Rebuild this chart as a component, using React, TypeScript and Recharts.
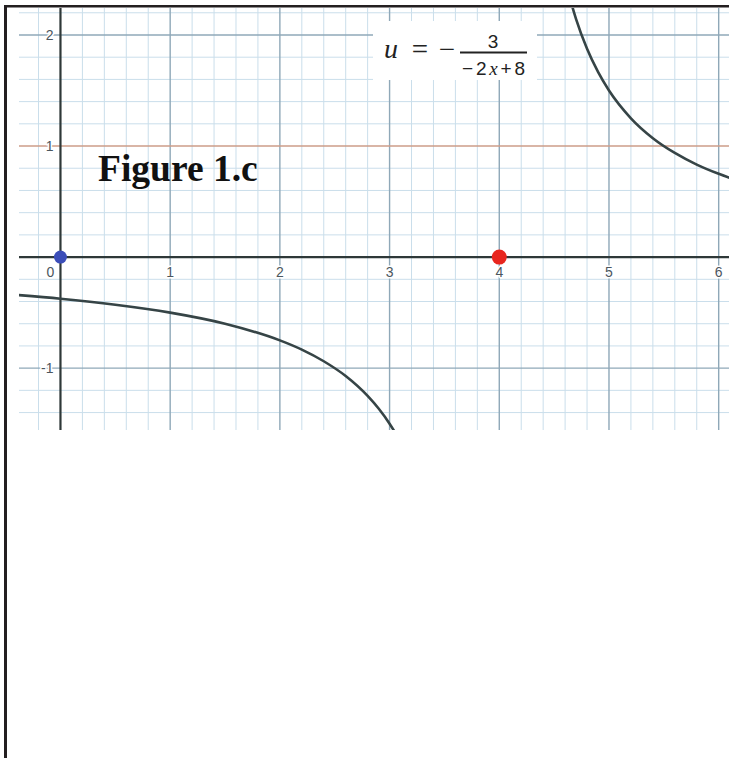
import React from "react";
import {
  ComposedChart, Line, XAxis, YAxis, ReferenceLine, ReferenceDot,
} from "recharts";

// curve u = -3 / (-2x + 8)
const leftX = [-0.4, 0, 0.5, 1, 1.5, 2, 2.2, 2.4, 2.6, 2.8, 2.9, 3.0, 3.05];
const leftU = [-0.341, -0.375, -0.429, -0.5, -0.6, -0.75, -0.833, -0.938, -1.071, -1.25, -1.364, -1.5, -1.579];
const rightX = [4.65, 4.7, 4.8, 4.9, 5.0, 5.2, 5.4, 5.6, 5.8, 6.0, 6.1];
const rightU = [2.308, 2.143, 1.875, 1.667, 1.5, 1.25, 1.071, 0.938, 0.833, 0.75, 0.714];

// marked points on the x axis
const pointX = [0, 4];
const pointU = [0, 0];
const pointColors = ["#3b4db8", "#e8261e"];
const pointRadius = [6.5, 7.5];

// tick labels
const xTicks = [0, 1, 2, 3, 4, 5, 6];
const yTicks = [-1, 1, 2];

const X_DOMAIN: [number, number] = [-0.378, 6.094];
const Y_DOMAIN: [number, number] = [-1.557, 2.243];

const minorLines = (from: number, to: number) => {
  const out: number[] = [];
  for (let i = Math.ceil(from / 0.2); i <= Math.floor(to / 0.2); i++) {
    const v = +(i * 0.2).toFixed(1);
    if (Math.abs(v - Math.round(v)) > 1e-6) out.push(v);
  }
  return out;
};
const majorLines = (from: number, to: number) => {
  const out: number[] = [];
  for (let v = Math.ceil(from); v <= Math.floor(to); v++) if (v !== 0) out.push(v);
  return out;
};

const leftData = leftX.map((x, i) => ({ x, u: leftU[i] }));
const rightData = rightX.map((x, i) => ({ x, u: rightU[i] }));

const MINOR = "#cadeeb";
const MAJOR = "#8fa8b8";
const AXIS = "#2e3838";
const CURVE = "#364446";
const LABEL_FONT = "'Liberation Sans', Arial, sans-serif";
const LABEL_FILL = "#4c565e";

// label drawn next to a reference dot
const tickLabel = (text: string, dx: number, dy: number, anchor: string) => (props: any) => {
  const vb = props.viewBox;
  if (!vb) return null;
  const cx = vb.x + (vb.width || 0) / 2;
  const cy = vb.y + (vb.height || 0) / 2;
  return (
    <text x={cx + dx} y={cy + dy} textAnchor={anchor} dominantBaseline="central"
      fontSize={14} fontFamily={LABEL_FONT} fill={LABEL_FILL}
      stroke="#fff" strokeWidth={3} paintOrder="stroke" strokeLinejoin="round">
      {text}
    </text>
  );
};

export default function App() {
  return (
    <div style={{ position: "absolute", left: 0, top: 0, width: 729, height: 758, background: "#fff" }}>
      <div style={{ position: "absolute", left: 19, top: 8 }}>
        <ComposedChart width={710} height={422} margin={{ top: 0, right: 0, bottom: 0, left: 0 }}>
          <XAxis type="number" dataKey="x" domain={X_DOMAIN} allowDataOverflow hide />
          <YAxis type="number" dataKey="u" domain={Y_DOMAIN} allowDataOverflow hide />

          {minorLines(X_DOMAIN[0], X_DOMAIN[1]).map((v) => (
            <ReferenceLine key={"mx" + v} x={v} stroke={MINOR} strokeWidth={1} />
          ))}
          {minorLines(Y_DOMAIN[0], Y_DOMAIN[1]).map((v) => (
            <ReferenceLine key={"my" + v} y={v} stroke={MINOR} strokeWidth={1} />
          ))}
          {majorLines(X_DOMAIN[0], X_DOMAIN[1]).map((v) => (
            <ReferenceLine key={"Mx" + v} x={v} stroke={MAJOR} strokeWidth={1.4} />
          ))}
          {majorLines(Y_DOMAIN[0], Y_DOMAIN[1]).map((v) => (
            <ReferenceLine key={"My" + v} y={v} stroke={v === 1 ? "#cc9d89" : MAJOR} strokeWidth={1.4} />
          ))}
          <ReferenceLine x={0} stroke={AXIS} strokeWidth={2.2} />
          <ReferenceLine y={0} stroke={AXIS} strokeWidth={2.2} />

          {xTicks.map((v) => (
            <ReferenceDot key={"xl" + v} x={v} y={0} r={0} fill="none" stroke="none"
              label={tickLabel(String(v), v === 0 ? -10 : 0, 15, "middle")} />
          ))}
          {yTicks.map((v) => (
            <ReferenceDot key={"yl" + v} x={0} y={v} r={0} fill="none" stroke="none"
              label={tickLabel(String(v), -7, 0, "end")} />
          ))}

          <Line data={leftData} dataKey="u" type="monotone" stroke={CURVE} strokeWidth={2.6}
            dot={false} activeDot={false} isAnimationActive={false} />
          <Line data={rightData} dataKey="u" type="monotone" stroke={CURVE} strokeWidth={2.6}
            dot={false} activeDot={false} isAnimationActive={false} />

          {pointX.map((x, i) => (
            <ReferenceDot key={"p" + i} x={x} y={pointU[i]} r={pointRadius[i]}
              fill={pointColors[i]} stroke="none" />
          ))}
        </ComposedChart>
      </div>

      <svg width={729} height={758} style={{ position: "absolute", left: 0, top: 0, pointerEvents: "none" }}>
        {/* page frame */}
        <rect x={4} y={5} width={3} height={753} fill="#231f20" />
        <rect x={4} y={5} width={725} height={2.5} fill="#231f20" />

        <text x={98} y={181} fontFamily="'Liberation Serif', 'Times New Roman', serif" fontWeight="bold"
          fontSize={37.5} fill="#111">Figure 1.c</text>

        {/* formula box */}
        <rect x={373} y={21} width={164} height={59} fill="#fff" />
        <text x={391} y={58} textAnchor="middle" fontFamily="'Liberation Serif', serif" fontStyle="italic"
          fontSize={28} fill="#222">u</text>
        <text x={420} y={59} textAnchor="middle" fontFamily="'Liberation Serif', serif" fontSize={29} fill="#222">=</text>
        <text x={447} y={59} textAnchor="middle" fontFamily="'Liberation Serif', serif" fontSize={29} fill="#222">−</text>
        <rect x={460} y={51.5} width={67} height={2} fill="#222" />
        <text x={493} y={48} textAnchor="middle" fontFamily={LABEL_FONT} fontSize={19} fill="#222">3</text>
        <text x={493.5} y={75} textAnchor="middle" textLength={63} lengthAdjust="spacing"
          fontFamily={LABEL_FONT} fontSize={19} fill="#222">
          −2<tspan fontFamily="'Liberation Serif', serif" fontStyle="italic">x</tspan>+8
        </text>
      </svg>
    </div>
  );
}
